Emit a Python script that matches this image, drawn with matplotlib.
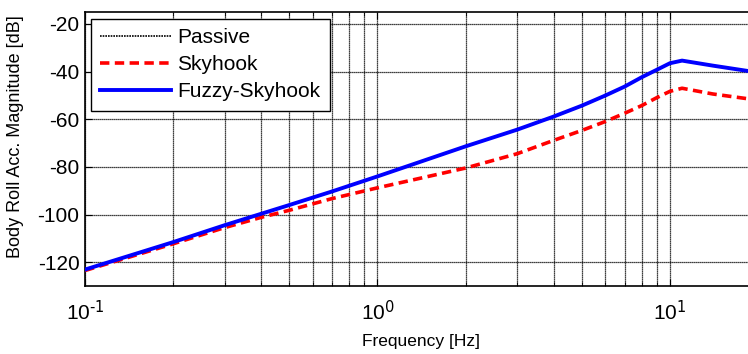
import numpy as np
import matplotlib
matplotlib.use('Agg')
import matplotlib.pyplot as plt
from matplotlib import rcParams
from matplotlib.ticker import LogLocator, NullFormatter, FuncFormatter

rcParams['font.family'] = ['Liberation Sans', 'DejaVu Sans']
rcParams['mathtext.default'] = 'regular'
rcParams['axes.unicode_minus'] = False

#Frequency points [Hz]
freq = [0.1, 0.2, 0.3, 0.4, 0.5, 0.7, 1, 2, 3, 4, 5, 6, 7, 8, 9, 10, 11, 14, 20]
#Body roll acceleration magnitude [dB]
#passive curve is not visible in the picture, it sits under the fuzzy one
passive = [-123.1, -111.6, -104.5, -99.7, -96.0, -90.3, -84.0, -71.4, -64.4, -58.9, -54.3, -50.1, -46.3, -42.4, -39.3, -36.5, -35.4, -37.5, -40.4]
skyhook = [-123.5, -112.3, -105.5, -101.2, -98.2, -93.3, -88.8, -80.5, -74.5, -68.9, -64.7, -61.0, -57.5, -54.3, -51.0, -48.3, -47.0, -49.4, -52.0]
fuzzy = [-123.1, -111.6, -104.5, -99.7, -96.0, -90.3, -84.0, -71.4, -64.4, -58.9, -54.3, -50.1, -46.3, -42.4, -39.3, -36.5, -35.4, -37.5, -40.4]
yticks = [-120, -100, -80, -60, -40, -20]

W, H = 748, 354
fig = plt.figure(figsize=(W/100., H/100.), dpi=100)
#axes box in pixels: left 85, top 12, bottom 286, right runs past the figure
ax = fig.add_axes([85./W, 1-286./H, 673./W, 274./H])

ax.semilogx(freq, passive, color='k', linestyle=(0, (1, 0.6)), lw=1.2, label='Passive', zorder=2)
ax.semilogx(freq, skyhook, color='r', linestyle=(0, (2.6, 1.5)), lw=2.6, label='Skyhook', zorder=3)
ax.semilogx(freq, fuzzy, color='b', lw=2.8, label='Fuzzy-Skyhook', zorder=4)

ax.set_xlim(0.1, 20)
ax.set_ylim(-130, -15)
ax.set_yticks(yticks)
ax.xaxis.set_minor_locator(LogLocator(base=10, subs=np.arange(2, 10)))
ax.xaxis.set_minor_formatter(NullFormatter())
#decade labels with a plain hyphen in the exponent
ax.xaxis.set_major_formatter(FuncFormatter(lambda v, p: r'$10^{\text{%d}}$' % int(round(np.log10(v)))))

gridstyle = dict(color='k', linestyle=(0, (1, 0.6)), lw=0.9)
ax.grid(True, which='major', axis='both', **gridstyle)
ax.grid(True, which='minor', axis='x', **gridstyle)

ax.tick_params(which='both', direction='in', top=True, right=False, labelsize=15)
ax.tick_params(which='major', length=5, width=0.8)
ax.tick_params(which='minor', length=3, width=0.6)
ax.tick_params(axis='x', pad=10)
ax.tick_params(axis='y', pad=4)
for s in ax.spines.values():
	s.set_linewidth(1.2)

ax.set_xlabel('Frequency [Hz]', fontsize=12.5, labelpad=7)
ax.set_ylabel('Body Roll Acc. Magnitude [dB]', fontsize=13, labelpad=6)
ax.yaxis.set_label_coords(-0.09, 0.545)

leg = ax.legend(loc='upper left', bbox_to_anchor=(91./W, 1-19./H), bbox_transform=fig.transFigure,
	fontsize=15, fancybox=False, framealpha=1, edgecolor='k', borderpad=0.45,
	handlelength=3.4, handletextpad=0.3, labelspacing=0.38, borderaxespad=0)
leg.get_frame().set_linewidth(1.0)

savefig_name = 'out.png'
fig.savefig(savefig_name, dpi=100)
